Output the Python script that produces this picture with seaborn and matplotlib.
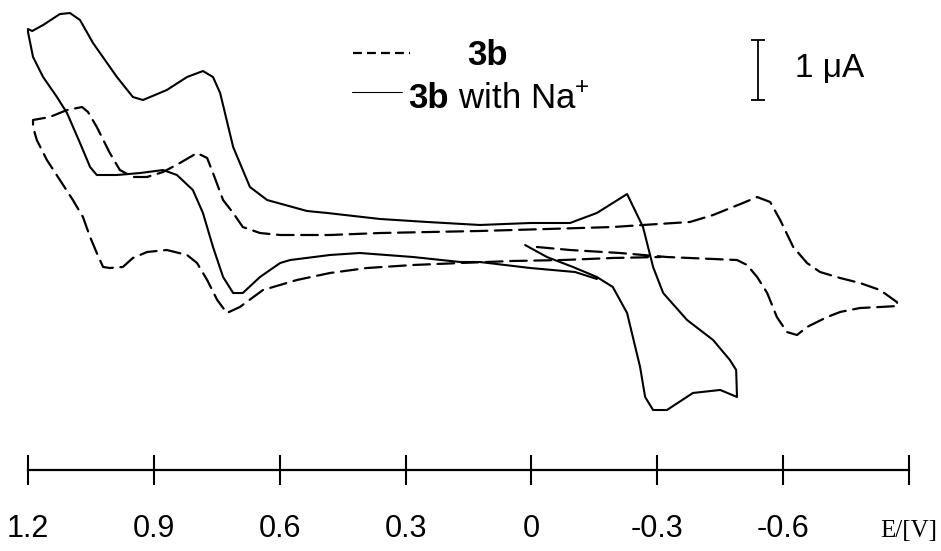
import pandas as pd
import matplotlib
matplotlib.use('Agg')
import matplotlib.pyplot as plt
import matplotlib.transforms as mtransforms
import seaborn as sns

# cyclic voltammograms, in scan order
# potential in V, current in uA (arbitrary zero)
e_3b = [-0.013, -0.092, -0.211, -0.323, -0.490, -0.514, -0.538, -0.562, -0.585, -0.609,
        -0.633, -0.657, -0.705, -0.736, -0.783, -0.831, -0.874, -0.871, -0.831, -0.783,
        -0.736, -0.688, -0.657, -0.624, -0.593, -0.569, -0.538, -0.504, -0.433, -0.378,
        -0.266, -0.194, -0.037, 0.123, 0.242, 0.361, 0.480, 0.599, 0.647, 0.688,
        0.711, 0.735, 0.759, 0.773, 0.797, 0.838, 0.878, 0.916, 0.950, 0.981,
        1.005, 1.036, 1.057, 1.071, 1.107, 1.148, 1.188, 1.188, 1.179, 1.155,
        1.124, 1.093, 1.069, 1.052, 1.036, 1.021, 1.005, 0.974, 0.950, 0.916,
        0.869, 0.821, 0.797, 0.773, 0.749, 0.726, 0.695, 0.640, 0.559, 0.480,
        0.392, 0.282, 0.170, 0.044, -0.075, -0.194, -0.307]
i_3b = [0.050, 0.000, -0.050, -0.117, -0.167, -0.250, -0.450, -0.717, -1.117, -1.367,
        -1.417, -1.283, -1.117, -1.033, -0.967, -0.950, -0.933, -0.867, -0.667, -0.550,
        -0.467, -0.367, -0.217, 0.050, 0.500, 0.800, 0.883, 0.783, 0.583, 0.467,
        0.417, 0.383, 0.350, 0.317, 0.300, 0.283, 0.250, 0.250, 0.283, 0.383,
        0.617, 0.833, 1.283, 1.533, 1.617, 1.450, 1.300, 1.217, 1.217, 1.333,
        1.617, 2.050, 2.300, 2.383, 2.333, 2.217, 2.167, 2.050, 1.833, 1.500,
        1.167, 0.833, 0.550, 0.217, -0.050, -0.283, -0.300, -0.283, -0.133, -0.033,
        0.000, -0.083, -0.217, -0.500, -0.833, -1.050, -0.950, -0.667, -0.500, -0.383,
        -0.300, -0.250, -0.217, -0.183, -0.167, -0.133, -0.117]

e_na = [0.015, -0.037, -0.099, -0.156, -0.194, -0.228, -0.259, -0.271, -0.290, -0.323,
        -0.385, -0.450, -0.490, -0.488, -0.473, -0.433, -0.371, -0.314, -0.290, -0.266,
        -0.228, -0.156, -0.092, 0.003, 0.123, 0.249, 0.361, 0.487, 0.535, 0.630,
        0.671, 0.688, 0.711, 0.742, 0.759, 0.783, 0.821, 0.869, 0.926, 0.950,
        0.988, 1.045, 1.076, 1.100, 1.124, 1.164, 1.190, 1.200, 1.200, 1.188,
        1.164, 1.131, 1.107, 1.076, 1.052, 1.036, 0.988, 0.933, 0.878, 0.845,
        0.807, 0.783, 0.759, 0.735, 0.711, 0.688, 0.647, 0.599, 0.575, 0.480,
        0.409, 0.282, 0.170, 0.123, 0.003, -0.104, -0.156]
i_na = [0.083, -0.117, -0.283, -0.450, -0.617, -1.050, -1.950, -2.450, -2.667, -2.667,
        -2.383, -2.333, -2.450, -2.000, -1.833, -1.500, -1.167, -0.717, -0.283, 0.383,
        0.933, 0.617, 0.450, 0.450, 0.417, 0.467, 0.517, 0.617, 0.650, 0.833,
        1.050, 1.333, 1.717, 2.617, 2.883, 2.983, 2.883, 2.667, 2.500, 2.550,
        2.883, 3.450, 3.833, 3.950, 3.933, 3.750, 3.650, 3.683, 3.633, 3.217,
        2.883, 2.550, 2.283, 1.783, 1.383, 1.250, 1.250, 1.283, 1.333, 1.250,
        1.000, 0.617, 0.050, -0.450, -0.717, -0.717, -0.450, -0.217, -0.167, -0.083,
        -0.050, -0.117, -0.200, -0.200, -0.300, -0.367, -0.483]

tick_pos = [1.2, 0.9, 0.6, 0.3, 0.0, -0.3, -0.6, -0.9]
tick_text = ['1.2', '0.9', '0.6', '0.3', '0', '-0.3', '-0.6', 'E/[V]']

df_3b = pd.DataFrame({'E': e_3b, 'I': i_3b})
df_na = pd.DataFrame({'E': e_na, 'I': i_na})

sns.set_theme(style='white')
plt.rcParams['font.family'] = ['Liberation Sans', 'DejaVu Sans']
plt.rcParams['mathtext.fontset'] = 'custom'
plt.rcParams['mathtext.rm'] = 'Liberation Sans'
plt.rcParams['mathtext.bf'] = 'Liberation Sans:bold'

fig = plt.figure(figsize=(9.41, 5.51), dpi=100)
ax = fig.add_axes([28 / 941, 81 / 551, 881 / 941, 470 / 551])

sns.lineplot(data=df_3b, x='E', y='I', sort=False, estimator=None, ax=ax,
             color='black', lw=1.6, linestyle=(0, (7.5, 3.4)), clip_on=False,
             dash_joinstyle='round', dash_capstyle='round')
sns.lineplot(data=df_na, x='E', y='I', sort=False, estimator=None, ax=ax,
             color='black', lw=1.5, clip_on=False, solid_joinstyle='round')

ax.set_xlim(1.2, -0.9)
ax.set_ylim(-3.667, 4.167)
ax.set_xlabel('')
ax.set_ylabel('')
ax.set_yticks([])
for s in ['top', 'left', 'right']:
    ax.spines[s].set_visible(False)
ax.spines['bottom'].set_linewidth(1.6)
ax.spines['bottom'].set_color('black')
ax.set_xticks(tick_pos)
ax.tick_params(axis='x', direction='inout', length=22, width=1.5, color='black',
               bottom=True, labelbottom=False)

# tick labels on a common baseline
tr = mtransforms.blended_transform_factory(ax.transData, fig.transFigure)
for p, t in zip(tick_pos, tick_text):
    if t.startswith('E'):
        ax.text(p, 14 / 551, t, transform=tr, ha='center', va='baseline',
                fontsize=18, family='Liberation Serif', color='black')
    else:
        ax.text(p, 14 / 551, t, transform=tr, ha='center', va='baseline',
                fontsize=22, color='black')

# legend
ax.plot([0.425, 0.289], [3.283, 3.283], color='black', lw=1.6,
        linestyle=(0, (4, 2.3)))
ax.text(0.1535, 3.083, '3b', fontsize=25, fontweight='bold', va='baseline',
        color='black')
ax.plot([0.428, 0.308], [2.633, 2.633], color='black', lw=0.8)
t1 = ax.text(0.294, 2.367, '3b', fontsize=25, fontweight='bold', va='baseline',
             color='black')
ax.annotate(' with Na$^{+}$', xy=(1, 0), xycoords=t1, va='bottom', ha='left',
            fontsize=25, color='black')

# 1 uA scale bar
ax.errorbar([-0.540], [3.0], yerr=[0.5], color='black', elinewidth=1.3,
            capsize=5, capthick=1.3, fmt='none')
ax.text(-0.628, 2.883, '1 μA', fontsize=24, va='baseline', color='black')

fig.savefig('out.png', dpi=100, facecolor='white')
